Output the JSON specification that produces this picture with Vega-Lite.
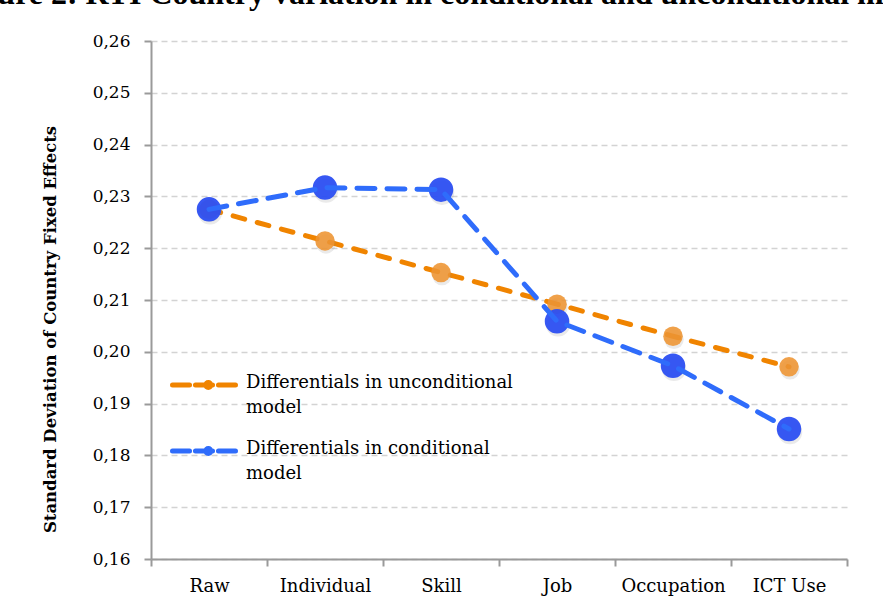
{
  "$schema": "https://vega.github.io/schema/vega-lite/v6.json",
  "autosize": {"type": "none"},
  "width": 696,
  "height": 518,
  "padding": {"left": 151, "top": 41, "right": 36, "bottom": 51},
  "background": "white",
  "title": {
    "text": "Figure 2: RTI Country variation in conditional and unconditional models",
    "font": "Liberation Serif",
    "fontSize": 32,
    "fontWeight": "bold",
    "color": "black",
    "anchor": "middle",
    "frame": "bounds",
    "baseline": "alphabetic",
    "limit": 2000,
    "offset": 20,
    "dy": 24,
    "dx": 8
  },
  "config": {
    "locale": {"number": {"decimal": ",", "thousands": ".", "grouping": [3], "currency": ["", " €"]}},
    "view": {"stroke": null},
    "axis": {
      "labelFont": "DejaVu Serif",
      "labelColor": "black",
      "domainColor": "#9a9a9a",
      "domainWidth": 2,
      "tickColor": "#9a9a9a",
      "tickWidth": 2,
      "tickSize": 7
    }
  },
  "data": {
    "values": [
      {"stage": "Raw", "series": "Differentials in unconditional model", "sd": 0.2275},
      {"stage": "Individual", "series": "Differentials in unconditional model", "sd": 0.2214},
      {"stage": "Skill", "series": "Differentials in unconditional model", "sd": 0.2153},
      {"stage": "Job", "series": "Differentials in unconditional model", "sd": 0.2092},
      {"stage": "Occupation", "series": "Differentials in unconditional model", "sd": 0.2030},
      {"stage": "ICT Use", "series": "Differentials in unconditional model", "sd": 0.1971},
      {"stage": "Raw", "series": "Differentials in conditional model", "sd": 0.2275},
      {"stage": "Individual", "series": "Differentials in conditional model", "sd": 0.2317},
      {"stage": "Skill", "series": "Differentials in conditional model", "sd": 0.2313},
      {"stage": "Job", "series": "Differentials in conditional model", "sd": 0.2059},
      {"stage": "Occupation", "series": "Differentials in conditional model", "sd": 0.1973},
      {"stage": "ICT Use", "series": "Differentials in conditional model", "sd": 0.1851}
    ]
  },
  "encoding": {
    "x": {
      "field": "stage",
      "type": "nominal",
      "sort": ["Raw", "Individual", "Skill", "Job", "Occupation", "ICT Use"],
      "scale": {"paddingInner": 0, "paddingOuter": 0},
      "axis": {
        "title": null,
        "labelAngle": 0,
        "labelFontSize": 18,
        "labelPadding": 11,
        "tickBand": "extent",
        "grid": false,
        "domainColor": "#9a9a9a"
      }
    },
    "y": {
      "field": "sd",
      "type": "quantitative",
      "scale": {"domain": [0.16, 0.26], "zero": false, "nice": false},
      "axis": {
        "title": "Standard Deviation of Country Fixed Effects",
        "titleFont": "DejaVu Serif",
        "titleFontSize": 16.5,
        "titleFontWeight": "bold",
        "titleColor": "black",
        "titleX": -101,
        "titleY": 288,
        "titleAlign": "center",
        "titleBaseline": "middle",
        "titleAngle": -90,
        "values": [0.16, 0.17, 0.18, 0.19, 0.2, 0.21, 0.22, 0.23, 0.24, 0.25, 0.26],
        "format": ".2f",
        "labelFontSize": 17,
        "labelPadding": 14,
        "grid": true,
        "gridColor": "#d3d3d3",
        "gridDash": [6, 4],
        "gridWidth": 1.5
      }
    }
  },
  "layer": [
    {
      "transform": [{"filter": "datum.series == 'Differentials in unconditional model'"}],
      "mark": {"type": "line", "strokeWidth": 5, "strokeDash": [12, 13], "strokeCap": "round"},
      "encoding": {
        "color": {
          "field": "series",
          "type": "nominal",
          "scale": {
            "domain": ["Differentials in unconditional model", "Differentials in conditional model"],
            "range": ["#f08400", "#2f6cfb"]
          },
          "legend": {
            "orient": "none",
            "legendX": 19,
            "legendY": 310,
            "title": null,
            "symbolType": "M-1,0H-0.46M-0.27,0H0.27M0.46,0H1M0.057,0a0.08,0.08 0 1,0 0.16,0a0.08,0.08 0 1,0 -0.16,0",
            "symbolSize": 3969,
            "symbolStrokeWidth": 5,
            "labelFont": "DejaVu Serif",
            "labelFontSize": 18,
            "labelColor": "black",
            "labelLimit": 400,
            "labelBaseline": "top",
            "labelOffset": 8,
            "rowPadding": -6,
            "labelExpr": "[slice(datum.label, 0, lastindexof(datum.label, ' ')), slice(datum.label, lastindexof(datum.label, ' ') + 1)]",
            "encode": {
              "symbols": {"update": {
                "fill": {"scale": "color", "field": "value"},
                "stroke": {"scale": "color", "field": "value"},
                "strokeCap": {"value": "round"}
              }},
              "labels": {"update": {"dy": {"value": -11}, "lineHeight": {"value": 25}}}
            }
          }
        }
      }
    },
    {
      "transform": [{"filter": "datum.series == 'Differentials in unconditional model'"}],
      "mark": {"type": "point", "filled": true, "size": 380, "color": "#888888", "opacity": 0.18, "yOffset": 3, "xOffset": 1},
      "encoding": {}
    },
    {
      "transform": [{"filter": "datum.series == 'Differentials in unconditional model'"}],
      "mark": {"type": "point", "filled": true, "size": 380, "color": "#ee9431", "opacity": 0.88},
      "encoding": {}
    },
    {
      "transform": [{"filter": "datum.series == 'Differentials in conditional model'"}],
      "mark": {"type": "point", "filled": true, "size": 600, "color": "#888888", "opacity": 0.18, "yOffset": 3, "xOffset": 1},
      "encoding": {}
    },
    {
      "transform": [{"filter": "datum.series == 'Differentials in conditional model'"}],
      "mark": {"type": "point", "filled": true, "size": 600, "color": "#2c4ff2", "opacity": 0.95},
      "encoding": {}
    },
    {
      "transform": [{"filter": "datum.series == 'Differentials in conditional model'"}],
      "mark": {"type": "line", "strokeWidth": 5, "strokeDash": [18, 12], "strokeCap": "round"},
      "encoding": {
        "color": {"field": "series", "type": "nominal"}
      }
    }
  ]
}
